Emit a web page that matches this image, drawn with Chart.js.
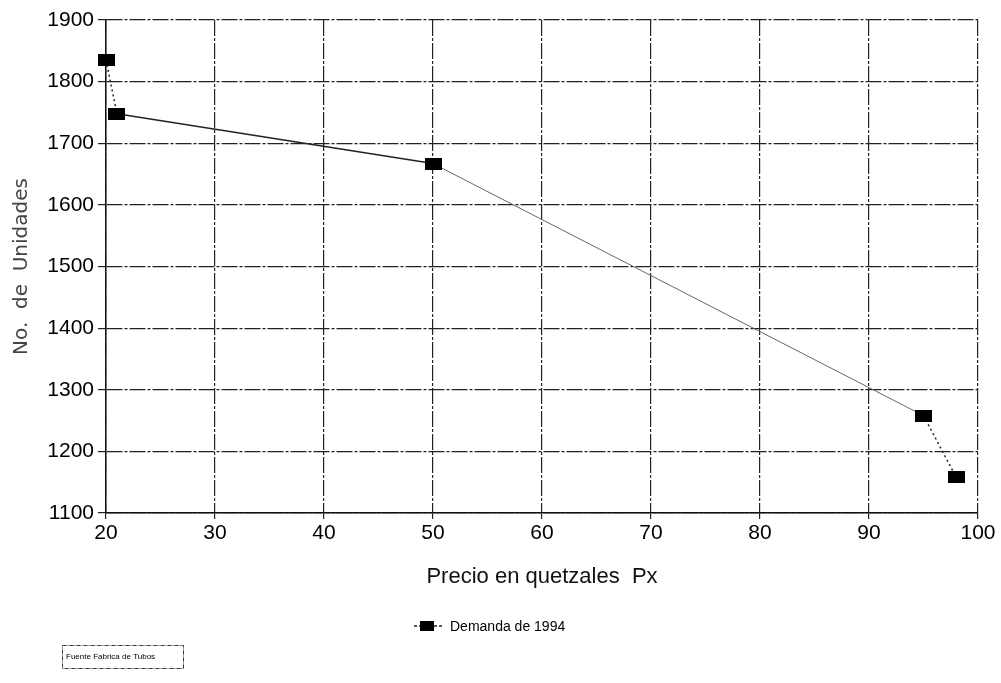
<!DOCTYPE html>
<html>
<head>
<meta charset="utf-8">
<script src="https://cdn.jsdelivr.net/npm/chart.js@4"></script>
<style>
  html, body { margin: 0; padding: 0; background: #fff; }
  #wrap { width: 1001px; height: 683px; }
</style>
</head>
<body>
<div id="wrap"><canvas id="demandChart"></canvas></div>
<script>
// Demanda de tubos 1994: precio vs unidades
const precios = [20, 21, 50, 95, 98];
const unidades = [1835, 1748, 1667, 1258, 1158];
const xTicks = [20, 30, 40, 50, 60, 70, 80, 90, 100];
const yTicks = [1100, 1200, 1300, 1400, 1500, 1600, 1700, 1800, 1900];

const serieNombre = 'Demanda de 1994';
const fuenteTexto = 'Fuente Fabrica de Tubos';

// marcador rectangular negro
const marker = document.createElement('canvas');
marker.width = 17; marker.height = 12;
const mctx = marker.getContext('2d');
mctx.fillStyle = '#000';
mctx.fillRect(0, 0, 17, 12);

const gridDash = [16, 2, 3, 2];

// leyenda y recuadro de fuente dibujados abajo
const extras = {
  id: 'extras',
  afterDraw(chart) {
    const c = chart.ctx;
    c.save();
    // leyenda
    c.strokeStyle = '#222';
    c.lineWidth = 1.5;
    c.setLineDash([3, 2]);
    c.beginPath(); c.moveTo(414, 626); c.lineTo(442, 626); c.stroke();
    c.setLineDash([]);
    c.fillStyle = '#000';
    c.fillRect(420, 621, 14, 10);
    c.font = '14px "Liberation Sans", Arial, sans-serif';
    c.textBaseline = 'middle';
    c.fillText(serieNombre, 450, 627);
    // fuente
    c.strokeStyle = '#333';
    c.lineWidth = 1;
    c.setLineDash([4, 1, 1, 1]);
    c.strokeRect(62.5, 645.5, 121, 23);
    c.setLineDash([]);
    c.font = '8px "Liberation Sans", Arial, sans-serif';
    c.fillText(fuenteTexto, 66, 657);
    c.restore();
  }
};

const ctx = document.getElementById('demandChart').getContext('2d');
const demandChart = new Chart(ctx, {
  type: 'line',
  data: {
    datasets: [{
      label: serieNombre,
      data: precios.map((p, i) => ({ x: p, y: unidades[i] })),
      borderColor: '#222',
      borderWidth: 1.5,
      pointStyle: marker,
      pointRadius: 8,
      tension: 0,
      clip: false,
      segment: {
        borderDash: s => (s.p0DataIndex === 0 || s.p0DataIndex === 3) ? [2, 3] : undefined,
        borderColor: s => s.p0DataIndex === 2 ? '#666' : '#222',
        borderWidth: s => s.p0DataIndex === 2 ? 1 : 1.5
      }
    }]
  },
  options: {
    responsive: true,
    maintainAspectRatio: false,
    animation: false,
    layout: { padding: { left: 0, top: 20, right: 23, bottom: 93 } },
    plugins: {
      legend: { display: false },
      tooltip: { enabled: false }
    },
    scales: {
      x: {
        type: 'linear',
        min: 20, max: 100,
        afterBuildTicks: s => { s.ticks = xTicks.map(v => ({ value: v })); },
        afterFit: s => { s.height = 77; },
        grid: { color: '#222', lineWidth: 1.2, tickLength: 6 },
        border: { color: '#111', width: 1.5, dash: gridDash },
        ticks: {
          color: '#000',
          padding: 2,
          callback: v => String(v),
          font: { family: '"Liberation Sans", Arial, sans-serif', size: 21 }
        },
        title: {
          display: true,
          text: 'Precio en quetzales  Px',
          color: '#111',
          padding: { top: 4, bottom: 0 },
          font: { family: '"Liberation Sans", Arial, sans-serif', size: 22 }
        }
      },
      y: {
        type: 'linear',
        min: 1100, max: 1900,
        afterBuildTicks: s => { s.ticks = yTicks.map(v => ({ value: v })); },
        afterFit: s => { s.width = 106; },
        grid: { color: '#222', lineWidth: 1.2, tickLength: 8 },
        border: { color: '#111', width: 1.5, dash: gridDash },
        ticks: {
          color: '#000',
          padding: 4,
          callback: v => String(v),
          font: { family: '"Liberation Sans", Arial, sans-serif', size: 21 }
        },
        title: {
          display: true,
          text: 'No.  de  Unidades',
          color: '#444',
          padding: { top: 10, bottom: 0 },
          font: { family: '"DejaVu Sans", sans-serif', size: 20, weight: 'normal' }
        }
      }
    }
  },
  plugins: [extras]
});
</script>
</body>
</html>
